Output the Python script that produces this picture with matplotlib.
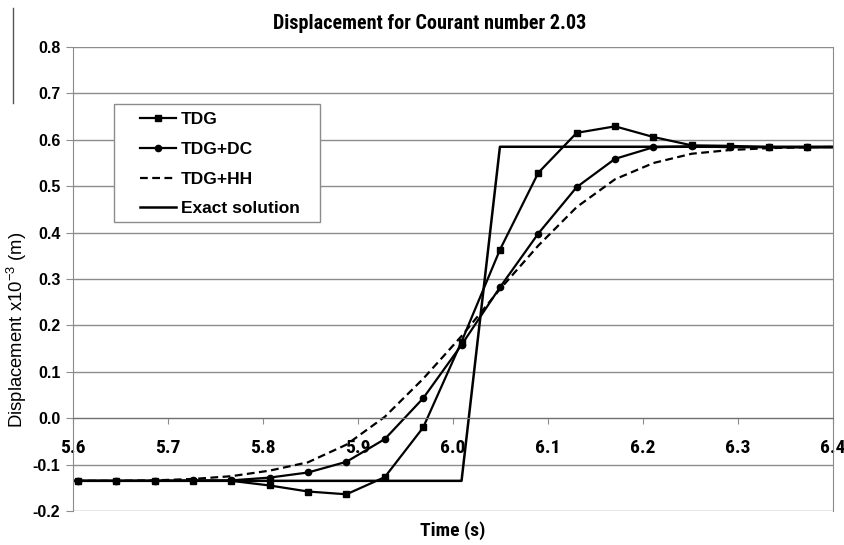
import matplotlib
matplotlib.use('Agg')
import matplotlib.pyplot as plt
from matplotlib import font_manager as fm
from matplotlib.lines import Line2D
from matplotlib.patches import Rectangle
import numpy as np

# time grid (dt ~ 0.0404 s); first and last points lie just outside the axis
t0 = 5.5646
dt = 0.0404
n = 22
time = t0 + dt * np.arange(n)

tdg = [-0.135, -0.135, -0.135, -0.135, -0.135, -0.135, -0.145, -0.158, -0.164, -0.127,
       -0.020, 0.165, 0.363, 0.529, 0.615, 0.629, 0.606, 0.588, 0.587, 0.584, 0.584, 0.584]
tdg_dc = [-0.135, -0.135, -0.135, -0.135, -0.134, -0.134, -0.128, -0.117, -0.094, -0.045,
          0.043, 0.158, 0.282, 0.398, 0.498, 0.559, 0.584, 0.586, 0.584, 0.584, 0.584, 0.584]
tdg_hh = [-0.135, -0.135, -0.135, -0.134, -0.131, -0.125, -0.113, -0.095, -0.057, 0.003,
          0.085, 0.177, 0.278, 0.372, 0.455, 0.515, 0.550, 0.570, 0.578, 0.582, 0.584, 0.585]
exact = [-0.135] * 12 + [0.585] * 10

# pick a narrow font if the system has one
names = {f.name for f in fm.fontManager.ttflist}
narrow_name = None
for cand in ['Liberation Sans Narrow', 'DejaVu Sans Condensed', 'Roboto Condensed',
             'Open Sans Condensed', 'Noto Sans Condensed']:
    if cand in names:
        narrow_name = cand
        break
if narrow_name is None:
    for nm in sorted(names):
        if 'Narrow' in nm or 'Condensed' in nm:
            narrow_name = nm
            break
narrow = [narrow_name, 'DejaVu Sans'] if narrow_name else ['Liberation Sans', 'DejaVu Sans']
nscale = 1.0 if narrow_name else 0.85
arial = ['Liberation Sans', 'DejaVu Sans']

fig = plt.figure(figsize=(8.45, 5.45), dpi=100)
ax = fig.add_axes([73 / 845, 1 - 511 / 545, 760 / 845, 464 / 545])

ax.plot(time, tdg, color='black', lw=1.6, marker='s', ms=3.8, label='TDG')
ax.plot(time, tdg_dc, color='black', lw=1.6, marker='o', ms=4.5, label='TDG+DC')
ax.plot(time, tdg_hh, color='black', lw=1.6, ls=(0, (3.5, 2)), label='TDG+HH')
ax.plot(time, exact, color='black', lw=1.8, label='Exact solution')

ax.set_xlim(5.6, 6.4)
ax.set_ylim(-0.2, 0.8)
ax.set_xticks(np.arange(5.6, 6.41, 0.1))
ax.set_yticks(np.arange(-0.2, 0.81, 0.1))
ax.set_xticklabels(['%.1f' % v for v in np.arange(5.6, 6.41, 0.1)])
ax.set_yticklabels(['%.1f' % v for v in np.arange(-0.2, 0.81, 0.1)])

ax.grid(axis='y', color='#8c8c8c', lw=1)
ax.set_axisbelow(True)
for s in ['left', 'right', 'top']:
    ax.spines[s].set_color('#8c8c8c')
ax.spines['bottom'].set_position(('data', 0))
ax.spines['bottom'].set_color('#707070')
ax.spines['top'].set_visible(False)

ax.tick_params(axis='y', direction='out', length=5, color='#8c8c8c', pad=4)
ax.tick_params(axis='x', direction='out', length=4, color='#8c8c8c', pad=11)
for lab in ax.get_yticklabels():
    lab.set_family(arial)
    lab.set_fontweight('bold')
    lab.set_fontsize(11.5)
for lab in ax.get_xticklabels():
    lab.set_family(narrow)
    lab.set_fontweight('bold')
    lab.set_fontsize(14 * nscale)

ax.set_title('Displacement for Courant number 2.03', family=narrow, fontweight='bold',
             fontsize=14.5 * nscale, pad=13, x=(430 - 73) / 760)
ax.set_xlabel('Time (s)', family=narrow, fontweight='bold', fontsize=14 * nscale)
ax.xaxis.set_label_coords(0.5, -0.022)
ax.set_ylabel(r'Displacement x10$^{\mathregular{-3}}$ (m)', family=arial, fontsize=13.3)
ax.yaxis.set_label_coords(-0.058, 0.39)

# legend box drawn by hand to get the wide left margin
ax.add_patch(Rectangle(((114 - 73) / 760, (511 - 222) / 464), 206 / 760, 118 / 464,
                       transform=ax.transAxes, facecolor='white', edgecolor='#8c8c8c',
                       lw=1, zorder=5))
leg = ax.legend(loc='upper left', bbox_to_anchor=((140 - 73) / 760, (511 - 112) / 464),
                frameon=False, borderaxespad=0, borderpad=0, handlelength=2.1,
                handletextpad=0.25, labelspacing=0.84,
                prop={'family': arial, 'weight': 'bold', 'size': 12.5})
leg.set_zorder(6)

fig.add_artist(Line2D([13 / 845, 13 / 845], [1 - 8 / 545, 1 - 103 / 545],
                      color='#555555', lw=1))

fig.savefig('out.png', dpi=100)
